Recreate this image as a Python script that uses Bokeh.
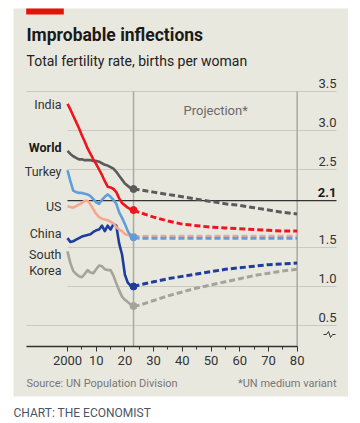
from bokeh.plotting import figure
from bokeh.models import Range1d, FixedTicker, LinearAxis
from bokeh.embed import file_html
from bokeh.resources import INLINE
from bokeh.core.properties import value

# ---------------- data ----------------
hist_years = list(range(2000, 2024))
india_hist = [3.34, 3.27, 3.19, 3.11, 3.03, 2.94, 2.86, 2.77, 2.70, 2.63, 2.57, 2.50,
              2.43, 2.35, 2.28, 2.27, 2.25, 2.21, 2.13, 2.07, 2.04, 2.01, 1.99, 1.98]
world_hist = [2.74, 2.70, 2.67, 2.65, 2.63, 2.63, 2.62, 2.62, 2.62, 2.61, 2.61, 2.60,
              2.58, 2.56, 2.55, 2.53, 2.51, 2.47, 2.42, 2.37, 2.32, 2.29, 2.26, 2.25]
turkey_hist = [2.49, 2.35, 2.23, 2.21, 2.20, 2.20, 2.19, 2.18, 2.16, 2.12, 2.08, 2.06,
               2.11, 2.15, 2.18, 2.15, 2.11, 2.06, 1.95, 1.88, 1.80, 1.71, 1.65, 1.63]
us_hist = [2.03, 2.02, 2.01, 2.03, 2.05, 2.07, 2.10, 2.10, 2.05, 1.99, 1.93, 1.89,
           1.87, 1.86, 1.85, 1.83, 1.81, 1.76, 1.73, 1.71, 1.67, 1.66, 1.65, 1.64]
china_hist = [1.62, 1.57, 1.58, 1.60, 1.62, 1.64, 1.65, 1.66, 1.67, 1.70, 1.72, 1.73,
              1.78, 1.71, 1.78, 1.73, 1.80, 1.78, 1.55, 1.41, 1.15, 1.05, 1.01, 1.00]
korea_hist = [1.45, 1.30, 1.20, 1.16, 1.13, 1.12, 1.16, 1.21, 1.18, 1.17, 1.22, 1.27,
              1.26, 1.22, 1.21, 1.21, 1.14, 1.04, 0.95, 0.87, 0.83, 0.80, 0.77, 0.75]

proj_years = [2023, 2025, 2030, 2035, 2040, 2045, 2050, 2055, 2060, 2065, 2070, 2075, 2080]
world_proj = [2.25, 2.24, 2.21, 2.18, 2.15, 2.12, 2.09, 2.06, 2.04, 2.01, 1.98, 1.95, 1.93]
india_proj = [1.98, 1.95, 1.89, 1.84, 1.80, 1.78, 1.76, 1.75, 1.74, 1.73, 1.72, 1.71, 1.71]
turkey_proj = [1.63, 1.62, 1.62, 1.62, 1.62, 1.62, 1.62, 1.62, 1.62, 1.62, 1.62, 1.62, 1.62]
us_proj = [1.64, 1.64, 1.645, 1.645, 1.645, 1.645, 1.645, 1.645, 1.645, 1.645, 1.645, 1.645, 1.645]
china_proj = [1.00, 1.02, 1.06, 1.10, 1.13, 1.16, 1.19, 1.22, 1.24, 1.26, 1.28, 1.29, 1.30]
korea_proj = [0.75, 0.76, 0.82, 0.88, 0.93, 0.98, 1.02, 1.06, 1.10, 1.14, 1.17, 1.20, 1.22]

series_names = ["South Korea", "China", "US", "Turkey", "World", "India"]
series_hist = [korea_hist, china_hist, us_hist, turkey_hist, world_hist, india_hist]
series_proj = [korea_proj, china_proj, us_proj, turkey_proj, world_proj, india_proj]
series_colors = ["#a4a498", "#1f3d9c", "#f5a88e", "#5f9ddb", "#5b5b5b", "#f0141e"]

label_texts = ["India", "World", "Turkey", "US", "China", "South", "Korea"]
label_vals = [3.278, 2.722, 2.41, 1.965, 1.624, 1.355, 1.15]
label_bold = [False, True, False, False, False, False, False]

grid_vals = [3.5, 3.0, 2.5, 1.5, 1.0, 0.5]
ytick_vals = [3.5, 3.0, 2.5, 2.1, 1.5, 1.0, 0.5]
ytick_labels = ["3.5", "3.0", "2.5", "2.1", "1.5", "1.0", "0.5"]
replacement_rate = 2.1
projection_start = 2023
x_start = 2000
x_end = 2080
xtick_vals = list(range(2000, 2081, 10))
xtick_labels = ["2000", "10", "20", "30", "40", "50", "60", "70", "80"]

BG = "#e9e8df"
FONT = "Roboto"

# pixel <-> data helpers for decorations and text placement
PX_PER_YEAR = 2.871
PX_PER_UNIT = 78.0
RAISE = 0.38  # text glyphs render ~0.38em below the requested baseline


def X(px):
    return 2000 + (px - 67) / PX_PER_YEAR


def Y(py):
    return 3.5 - (py - 91) / PX_PER_UNIT


def up(fs):
    return RAISE * fs / PX_PER_UNIT


W, H = 348, 423
p = figure(width=W, height=H, x_range=Range1d(X(0), X(W)), y_range=Range1d(Y(H), Y(0)),
           output_backend="svg", toolbar_location=None, x_axis_location=None, y_axis_location=None,
           min_border=0, background_fill_color="white", border_fill_color="white",
           outline_line_color=None)
p.grid.visible = False

AXIS_Y = Y(346)
LEFT = X(26)
XR = X(336)

# beige panel + red bar
p.quad(left=[X(13)], right=[X(W) + 1], top=[Y(8)], bottom=[Y(396)], fill_color=BG, line_color=None)
p.quad(left=[X(25.7)], right=[X(63.3)], top=[Y(8)], bottom=[Y(14)], fill_color="#e3120b", line_color=None)

# x axis drawn at a fixed location inside the frame
ax = LinearAxis(fixed_location=AXIS_Y)
ax.ticker = FixedTicker(ticks=xtick_vals, minor_ticks=list(range(2005, 2080, 10)))
ax.bounds = (LEFT, x_end)
ax.major_label_overrides = {v: l for v, l in zip(xtick_vals, xtick_labels)}
ax.axis_line_color = "#333333"
ax.axis_line_width = 1.3
ax.major_tick_line_color = "#333333"
ax.minor_tick_line_color = "#333333"
ax.major_tick_out = 5
ax.major_tick_in = 0
ax.minor_tick_out = 3
ax.minor_tick_in = 0
ax.major_label_text_font = FONT
ax.major_label_text_font_size = "13px"
ax.major_label_text_color = "#333333"
ax.major_label_standoff = 4
p.add_layout(ax, "below")


def txt(x, y, t, fs, color="#333333", align="left", bold=False):
    p.text(x=x, y=[v + up(fs) for v in y], text=t, text_font=value(FONT),
           text_font_size=value(f"{fs}px"), text_font_style="bold" if bold else "normal",
           text_color=color, text_align=align, text_baseline="alphabetic")


# titles
txt([X(26)], [Y(40.7)], ["Improbable inflections"], 17.5, "#1a1a1a", bold=True)
txt([X(26)], [Y(66)], ["Total fertility rate, births per woman"], 14, "#222222")

# grid
grid_starts = [LEFT if v in (3.5, 0.5) else x_start for v in grid_vals]
p.segment(x0=grid_starts, y0=grid_vals, x1=[XR] * len(grid_vals), y1=grid_vals,
          line_color="#cbcac2", line_width=1)
p.segment(x0=[projection_start, x_end], y0=[AXIS_Y, AXIS_Y], x1=[projection_start, x_end],
          y1=[3.5, 3.5], line_color="#aaa9a1", line_width=1.5)
p.segment(x0=[x_start], y0=[replacement_rate], x1=[XR], y1=[replacement_rate],
          line_color="#333333", line_width=1.3)

# y labels (above their grid lines, right aligned)
LBL_UP = 3.5 / PX_PER_UNIT
norm_idx = [i for i, l in enumerate(ytick_labels) if l != "2.1"]
txt([XR] * len(norm_idx), [ytick_vals[i] + LBL_UP for i in norm_idx],
    [ytick_labels[i] for i in norm_idx], 13, "#333333", align="right")
txt([XR], [replacement_rate + LBL_UP], ["2.1"], 13, "#1a1a1a", align="right", bold=True)

# axis break symbol
brk_px = [323, 326, 328, 330, 332, 335]
brk_py = [334, 334, 331, 337, 334, 334]
p.line([X(v) for v in brk_px], [Y(v) for v in brk_py], line_color="#333333", line_width=1)

txt([X(183)], [Y(115)], ["Projection*"], 13, "#6a6a6a")

# series
for name, h, pr, c in zip(series_names, series_hist, series_proj, series_colors):
    p.line(proj_years, pr, line_color=c, line_width=3, line_dash="6 3")
    p.line(hist_years, h, line_color=c, line_width=2.6, line_join="round")
    p.scatter([proj_years[0]], [pr[0]], size=7, color=c)

# country labels
for t, v, b in zip(label_texts, label_vals, label_bold):
    txt([X(61)], [v], [t], 12.5, "#1a1a1a" if b else "#333333", align="right", bold=b)

# footer notes
txt([X(26)], [Y(386.7)], ["Source: UN Population Division"], 11, "#777777")
txt([XR], [Y(386.7)], ["*UN medium variant"], 11, "#777777", align="right")
txt([X(13)], [Y(417)], ["CHART: THE ECONOMIST"], 12, "#4a5668")

open("out.html", "w").write(file_html(p, INLINE))
